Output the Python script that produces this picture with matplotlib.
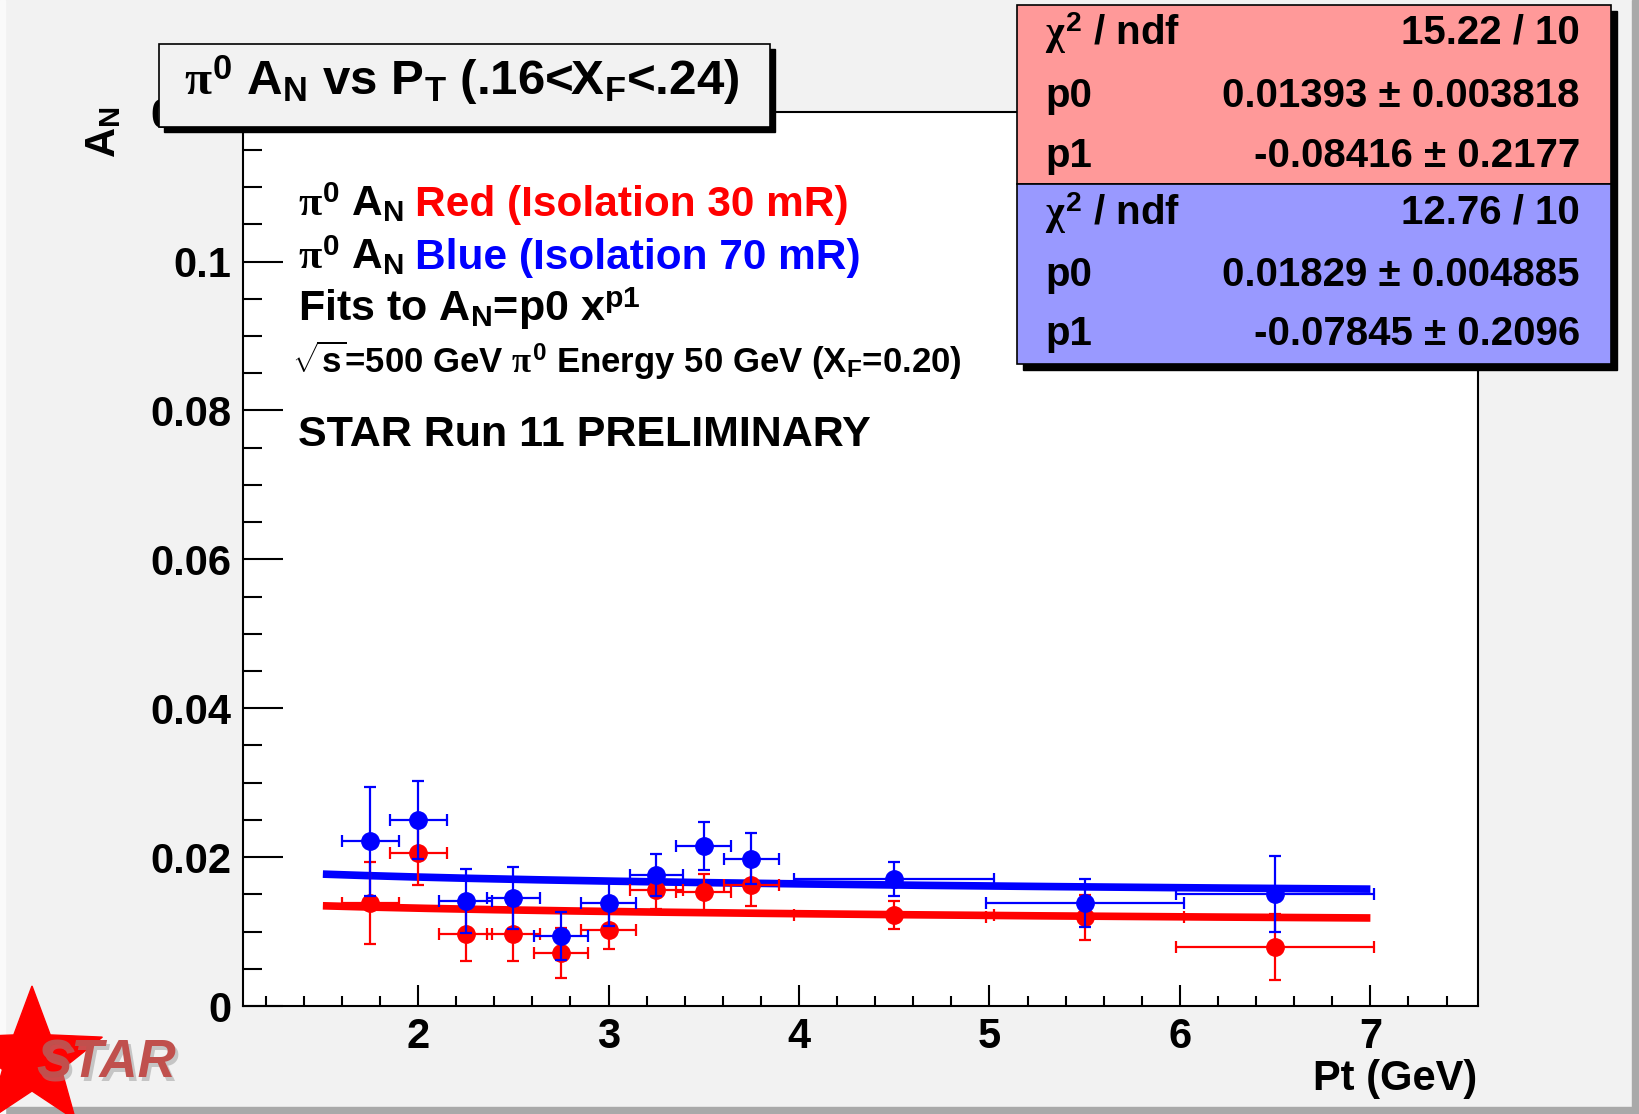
import matplotlib
matplotlib.use("Agg")
import matplotlib.pyplot as plt
import numpy as np
from matplotlib.patches import Rectangle, Polygon
from matplotlib.ticker import MultipleLocator, FuncFormatter

# ---------------------------------------------------
# Datos
# ---------------------------------------------------
pt = [1.75, 2.0, 2.25, 2.5, 2.75, 3.0, 3.25, 3.5, 3.75, 4.5, 5.5, 6.5]

red_an = [0.0138, 0.0206, 0.0097, 0.0097, 0.0071, 0.0102, 0.0156, 0.0153, 0.0162, 0.0122, 0.0119, 0.0079]
red_err = [0.0055, 0.0044, 0.0037, 0.0037, 0.0034, 0.0026, 0.0026, 0.0025, 0.0028, 0.0019, 0.0030, 0.0044]
red_pterr = [0.15, 0.15, 0.14, 0.14, 0.14, 0.145, 0.14, 0.145, 0.145, 0.525, 0.52, 0.52]

blue_an = [0.0221, 0.0250, 0.0141, 0.0145, 0.0094, 0.0138, 0.0176, 0.0215, 0.0198, 0.0171, 0.0138, 0.0151]
blue_err = [0.0073, 0.0052, 0.0043, 0.0042, 0.0032, 0.0030, 0.0028, 0.0032, 0.0034, 0.0023, 0.0032, 0.0051]
blue_pterr = [0.15, 0.15, 0.14, 0.14, 0.14, 0.145, 0.14, 0.145, 0.145, 0.525, 0.52, 0.52]

# parametros del ajuste A_N = p0 * x^p1
red_p0, red_p1 = 0.01393, -0.08416
blue_p0, blue_p1 = 0.01829, -0.07845
fit_min, fit_max = 1.5, 7.0

red_stats = [(r"$\chi^{\mathrm{2}}$ / ndf", "15.22 / 10"),
             ("p0", "0.01393 \u00b1 0.003818"),
             ("p1", "-0.08416 \u00b1 0.2177")]
blue_stats = [(r"$\chi^{\mathrm{2}}$ / ndf", "12.76 / 10"),
              ("p0", "0.01829 \u00b1 0.004885"),
              ("p1", "-0.07845 \u00b1 0.2096")]

W, H = 1639, 1114


def fx(x):
    return x / W


def fy(y):
    return 1 - y / H


plt.rcParams['font.family'] = 'Liberation Sans'
plt.rcParams['font.weight'] = 'bold'
plt.rcParams['mathtext.fontset'] = 'custom'
plt.rcParams['mathtext.rm'] = 'Liberation Sans:bold'
plt.rcParams['mathtext.bf'] = 'Liberation Sans:bold'
plt.rcParams['mathtext.it'] = 'Liberation Serif'

fig = plt.figure(figsize=(W / 100, H / 100), dpi=100, facecolor='#f2f2f2')

# bordes del canvas
fig.patches.append(Rectangle((0, 0), 1, fy(1107), transform=fig.transFigure, color='#a9a9a9', zorder=0))
fig.patches.append(Rectangle((fx(1632), 0), 1, 1, transform=fig.transFigure, color='#a9a9a9', zorder=0))
fig.patches.append(Rectangle((0, 0), fx(5), 1, transform=fig.transFigure, color='#fafafa', zorder=0))

ax = fig.add_axes([fx(242.5), fy(1006), fx(1478) - fx(242.5), fy(112) - fy(1006)])
ax.set_facecolor('white')

# ---------------------------------------------------
# Puntos y ajustes
# ---------------------------------------------------
xs = np.linspace(fit_min, fit_max, 300)
ax.plot(xs, red_p0 * xs ** red_p1, color='#ff0000', lw=5.5, zorder=2, solid_capstyle='butt')
ax.plot(xs, blue_p0 * xs ** blue_p1, color='#0000ff', lw=5.5, zorder=2, solid_capstyle='butt')

ax.errorbar(pt, red_an, yerr=red_err, xerr=red_pterr, fmt='o', color='#ff0000', ms=12.5,
            elinewidth=1.6, capsize=4.5, capthick=1.6, zorder=3)
ax.errorbar(pt, blue_an, yerr=blue_err, xerr=blue_pterr, fmt='o', color='#0000ff', ms=12.5,
            elinewidth=1.6, capsize=4.5, capthick=1.6, zorder=4)

ax.set_xlim(1.078, 7.565)
ax.set_ylim(0, 0.1201)
ax.xaxis.set_major_locator(MultipleLocator(1))
ax.xaxis.set_minor_locator(MultipleLocator(0.2))
ax.yaxis.set_major_locator(MultipleLocator(0.02))
ax.yaxis.set_minor_locator(MultipleLocator(0.005))
ax.yaxis.set_major_formatter(FuncFormatter(lambda v, p: f"{v:g}"))
ax.tick_params(which='both', direction='in', top=False, right=False, width=1.5, labelsize=30)
ax.tick_params(axis='y', which='major', length=29, pad=8)
ax.tick_params(axis='y', which='minor', length=14)
ax.tick_params(axis='x', which='major', length=15, pad=8)
ax.tick_params(axis='x', which='minor', length=7)
for s in ax.spines.values():
    s.set_linewidth(1.5)

fig.text(fx(104), fy(132), r"A$_{\mathrm{N}}$", rotation=90, ha='center', va='center', size=30)
fig.text(fx(1477), fy(1079), "Pt (GeV)", ha='right', va='center', size=30)

# ---------------------------------------------------
# Titulo en caja
# ---------------------------------------------------
tx0, ty0, tx1, ty1 = 159, 44, 770, 127
fig.patches.append(Rectangle((fx(tx0 + 5), fy(ty1 + 5)), fx(tx1 - tx0), fy(ty0) - fy(ty1),
                             transform=fig.transFigure, color='black', zorder=5))
fig.patches.append(Rectangle((fx(tx0), fy(ty1)), fx(tx1 - tx0), fy(ty0) - fy(ty1),
                             transform=fig.transFigure, facecolor='#f2f2f2', edgecolor='black',
                             lw=1.2, zorder=6))
fig.text(fx((tx0 + tx1) / 2 - 3), fy(80),
         r"$\pi^{\mathrm{0}}$ A$_{\mathrm{N}}$ vs P$_{\mathrm{T}}$ (.16<X$_{\mathrm{F}}$<.24)",
         ha='center', va='center', size=35.5, zorder=7)

# ---------------------------------------------------
# Caja de estadisticas
# ---------------------------------------------------
sx0, sx1, sy0, sy_mid, sy1 = 1017, 1611, 5, 184, 364
fig.patches.append(Rectangle((fx(sx0 + 6), fy(sy1 + 6)), fx(sx1 - sx0), fy(sy0) - fy(sy1),
                             transform=fig.transFigure, color='black', zorder=5))
fig.patches.append(Rectangle((fx(sx0), fy(sy_mid)), fx(sx1 - sx0), fy(sy0) - fy(sy_mid),
                             transform=fig.transFigure, facecolor='#ff9999', edgecolor='black',
                             lw=1.2, zorder=6))
fig.patches.append(Rectangle((fx(sx0), fy(sy1)), fx(sx1 - sx0), fy(sy_mid) - fy(sy1),
                             transform=fig.transFigure, facecolor='#9999ff', edgecolor='black',
                             lw=1.2, zorder=6))
rows_y = [33, 96, 156, 213, 275, 334]
for (lab, val), yy in zip(red_stats + blue_stats, rows_y):
    fig.text(fx(1045), fy(yy), lab, ha='left', va='center', size=29, zorder=7)
    fig.text(fx(1580), fy(yy), val, ha='right', va='center', size=29, zorder=7)

# ---------------------------------------------------
# Texto explicativo
# ---------------------------------------------------
fig.canvas.draw()
rend = fig.canvas.get_renderer()


def two_color(y, prefix, colored, color, size=30.5):
    t = fig.text(fx(298), fy(y), prefix, ha='left', va='baseline', size=size, zorder=7)
    bb = t.get_window_extent(rend)
    fig.text(bb.x1 / W + fx(11), fy(y), colored, ha='left', va='baseline', size=size,
             color=color, zorder=7)


two_color(216, r"$\pi^{\mathrm{0}}$ A$_{\mathrm{N}}$", "Red (Isolation 30 mR)", '#ff0000')
two_color(269, r"$\pi^{\mathrm{0}}$ A$_{\mathrm{N}}$", "Blue (Isolation 70 mR)", '#0000ff')
fig.text(fx(298), fy(321), r"Fits to A$_{\mathrm{N}}$=p0 x$^{\mathrm{p1}}$", ha='left', va='baseline', size=31)
fig.text(fx(292), fy(373),
         r"$\sqrt{\mathrm{s}}$=500 GeV $\pi^{\mathrm{0}}$ Energy 50 GeV (X$_{\mathrm{F}}$=0.20)",
         ha='left', va='baseline', size=25)
fig.text(fx(298), fy(446), "STAR Run 11 PRELIMINARY", ha='left', va='baseline', size=31)

# ---------------------------------------------------
# Logo STAR
# ---------------------------------------------------
cx, cy, r_out, r_in = 32, 1060, 74, 31
ang = np.pi / 2 + np.arange(10) * np.pi / 5
rad = np.where(np.arange(10) % 2 == 0, r_out, r_in)
star = [(fx(cx + r * np.cos(a)), fy(cy - r * np.sin(a))) for r, a in zip(rad, ang)]
fig.patches.append(Polygon(star, closed=True, transform=fig.transFigure, color='#ff0000', zorder=5))
fig.text(fx(39), fy(1067), "STAR", ha='left', va='center', size=38, style='italic',
         color='#999999', alpha=0.5, zorder=6)
fig.text(fx(36), fy(1064), "STAR", ha='left', va='center', size=38, style='italic',
         color='#c0504d', zorder=7)

fig.savefig("out.png", dpi=100, facecolor=fig.get_facecolor())
